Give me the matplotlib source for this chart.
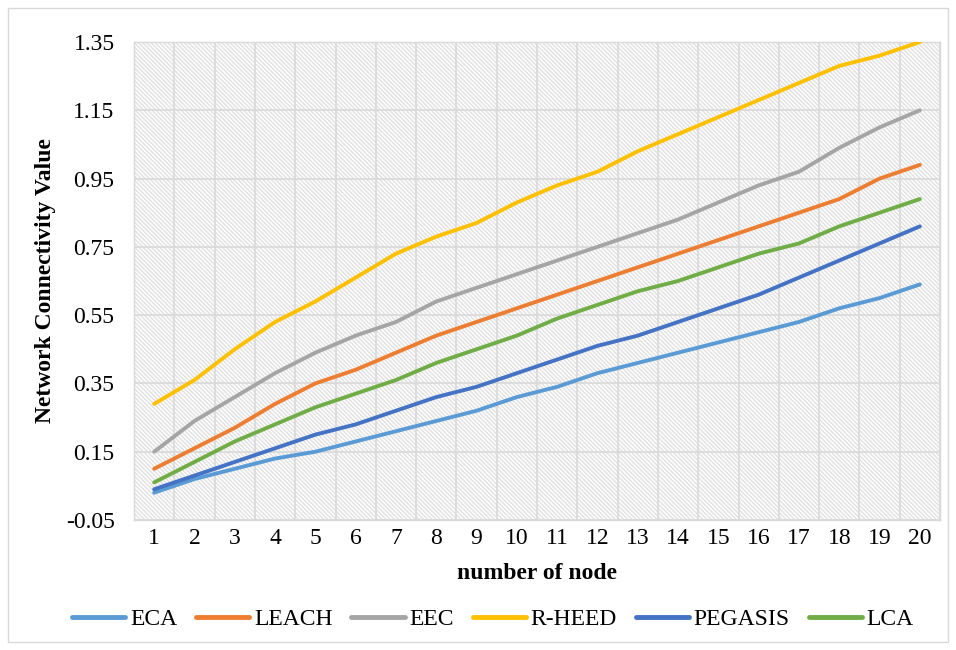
import matplotlib
matplotlib.use("Agg")
import matplotlib.pyplot as plt
from matplotlib.patches import Rectangle

plt.rcParams['font.family'] = ['Liberation Serif', 'DejaVu Serif']
plt.rcParams['hatch.linewidth'] = 1.0

nodes = list(range(1, 21))
eca = [0.03, 0.07, 0.10, 0.13, 0.15, 0.18, 0.21, 0.24, 0.27, 0.31,
       0.34, 0.38, 0.41, 0.44, 0.47, 0.50, 0.53, 0.57, 0.60, 0.64]
leach = [0.10, 0.16, 0.22, 0.29, 0.35, 0.39, 0.44, 0.49, 0.53, 0.57,
         0.61, 0.65, 0.69, 0.73, 0.77, 0.81, 0.85, 0.89, 0.95, 0.99]
eec = [0.15, 0.24, 0.31, 0.38, 0.44, 0.49, 0.53, 0.59, 0.63, 0.67,
       0.71, 0.75, 0.79, 0.83, 0.88, 0.93, 0.97, 1.04, 1.10, 1.15]
rheed = [0.29, 0.36, 0.45, 0.53, 0.59, 0.66, 0.73, 0.78, 0.82, 0.88,
         0.93, 0.97, 1.03, 1.08, 1.13, 1.18, 1.23, 1.28, 1.31, 1.35]
pegasis = [0.04, 0.08, 0.12, 0.16, 0.20, 0.23, 0.27, 0.31, 0.34, 0.38,
           0.42, 0.46, 0.49, 0.53, 0.57, 0.61, 0.66, 0.71, 0.76, 0.81]
lca = [0.06, 0.12, 0.18, 0.23, 0.28, 0.32, 0.36, 0.41, 0.45, 0.49,
       0.54, 0.58, 0.62, 0.65, 0.69, 0.73, 0.76, 0.81, 0.85, 0.89]

series_names = ["ECA", "LEACH", "EEC", "R-HEED", "PEGASIS", "LCA"]
series_vals = [eca, leach, eec, rheed, pegasis, lca]
colors = ["#5B9BD5", "#ED7D31", "#A5A5A5", "#FFC000", "#4472C4", "#70AD47"]
yticks = [-0.05, 0.15, 0.35, 0.55, 0.75, 0.95, 1.15, 1.35]

FS = 17

fig = plt.figure(figsize=(9.56, 6.5), dpi=100)
ax = fig.add_axes([134/956, 1-520/650, (940-134)/956, (520-42)/650])

# outer chart border
fig.patches.append(Rectangle((8/956, 1-642/650), 940/956, 634/650, transform=fig.transFigure,
                             fill=False, edgecolor="#d9d9d9", linewidth=1.0))

# hatched plot-area background
ax.add_patch(Rectangle((0, 0), 1, 1, transform=ax.transAxes, facecolor="white",
                       edgecolor="#e0e0e0", hatch="\\" * 8, linewidth=0, zorder=0))

for name, vals, c in zip(series_names, series_vals, colors):
    ax.plot(nodes, vals, color=c, linewidth=2.8, label=name, zorder=3,
            solid_capstyle="round", solid_joinstyle="round")

ax.set_xlim(0.5, 20.5)
ax.set_ylim(-0.05, 1.35)
ax.set_yticks(yticks)
ax.set_yticklabels([f"{v:.2f}" for v in yticks])
ax.set_xticks(nodes)
ax.set_xticklabels([str(n) for n in nodes])
ax.set_xticks([n + 0.5 for n in range(0, 21)], minor=True)
ax.grid(False)
ax.yaxis.grid(True, which="major", color="#d9d9d9", linewidth=1.2, zorder=1)
ax.xaxis.grid(True, which="minor", color="#d9d9d9", linewidth=1.2, zorder=1)
ax.set_axisbelow(True)
ax.tick_params(axis="both", which="both", length=0, labelsize=FS, colors="#000000")
ax.tick_params(axis="y", pad=14)
ax.tick_params(axis="x", pad=6)
for s in ax.spines.values():
    s.set_color("#d9d9d9")
    s.set_linewidth(1.0)

ax.set_xlabel("number of node", fontsize=FS, fontweight="bold", labelpad=10)
ax.set_ylabel("Network Connectivity Value", fontsize=FS, fontweight="bold", labelpad=7)

leg = fig.legend(loc="center", bbox_to_anchor=(493/956, 1-619/650), ncol=6, frameon=False,
                 fontsize=FS, handlelength=2.25, handletextpad=0.2, columnspacing=0.8)
for line in leg.get_lines():
    line.set_linewidth(3.5)

fig.savefig("out.png", dpi=100)
